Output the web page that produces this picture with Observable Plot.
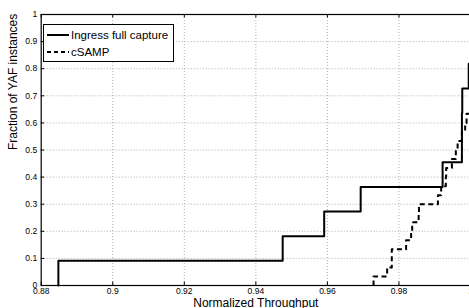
<!DOCTYPE html>
<html>
<head>
<meta charset="utf-8">
<script src="https://cdn.jsdelivr.net/npm/d3@7"></script>
<script src="https://cdn.jsdelivr.net/npm/@observablehq/plot@0.6"></script>
<style>
  html, body { margin: 0; padding: 0; background: #fff; overflow: hidden; }
  #wrap { position: relative; width: 469px; height: 308px; overflow: hidden; font-family: "Liberation Sans", Arial, Helvetica, sans-serif; }
  #legend { position: absolute; left: 43px; top: 24px; width: 129px; height: 36px; border: 1px solid #000; background: #fff; }
  #legend .row { position: absolute; left: 0; height: 16px; display: flex; align-items: center; font-size: 11.5px; color: #000; white-space: nowrap; }
  #legend svg { display: block; margin-left: 3px; margin-right: 2px; }
</style>
</head>
<body>
<div id="wrap"></div>
<script>
// Data (normalized throughput per YAF instance)
const ingressValues = [0.8848, 0.9475, 0.9591, 0.9693, 0.9922, 0.9976, 0.9976, 0.9977, 0.9995, 1.0, 1.0];
const csampValues = [0.9729, 0.9767, 0.9780, 0.9780, 0.9820, 0.9834, 0.9837, 0.9855, 0.9856, 0.9909,
                     0.9918, 0.9931, 0.9932, 0.9948, 0.9959, 0.9964, 0.9976, 0.9985, 0.9989, 1.0,
                     1.0, 1.0, 1.0, 1.0, 1.0, 1.0, 1.0, 1.0, 1.0, 1.0];
const seriesNames = ["Ingress full capture", "cSAMP"];
const xTicks = [0.88, 0.9, 0.92, 0.94, 0.96, 0.98, 1];
const xTickLabels = ["0.88", "0.9", "0.92", "0.94", "0.96", "0.98", "1"];
const yTicks = [0, 0.1, 0.2, 0.3, 0.4, 0.5, 0.6, 0.7, 0.8, 0.9, 1];
const yTickLabels = ["0", "0.1", "0.2", "0.3", "0.4", "0.5", "0.6", "0.7", "0.8", "0.9", "1"];
const xLabel = "Normalized Throughput";
const yLabel = "Fraction of YAF instances";

// Empirical CDF points
function ecdf(values, name) {
  const s = values.slice().sort((a, b) => a - b);
  const n = s.length;
  const pts = [{x: s[0], y: 0, series: name}];
  s.forEach((v, i) => pts.push({x: v, y: (i + 1) / n, series: name}));
  return pts;
}
const ingressCdf = ecdf(ingressValues, seriesNames[0]);
const csampCdf = ecdf(csampValues, seriesNames[1]);

const W = 469, H = 308;
const mL = 40.7, mT = 14, mB = 23, mR = -1;
const plotW = W - mL - mR, plotH = H - mT - mB;
const font = "'Liberation Sans', Arial, Helvetica, sans-serif";
const gridStyle = {stroke: "#9a9a9a", strokeOpacity: 1, strokeDasharray: "1,2", strokeWidth: 0.8};

const chart = Plot.plot({
  width: W, height: H,
  marginLeft: mL, marginTop: mT, marginBottom: mB, marginRight: mR,
  style: {fontFamily: font, background: "#fff", overflow: "hidden"},
  x: {domain: [0.88, 1.0]},
  y: {domain: [0, 1]},
  marks: [
    Plot.gridX(xTicks.slice(1, -1), gridStyle),
    Plot.gridY(yTicks.slice(1, -1), gridStyle),
    Plot.axisX(xTicks, {tickSize: 0, tickPadding: 2.5, fontSize: 8.5, fill: "#000", label: null,
      tickFormat: (d) => xTickLabels[xTicks.indexOf(d)]}),
    Plot.axisY(yTicks, {tickSize: 0, tickPadding: 4, fontSize: 8.5, fill: "#000", label: null,
      tickFormat: (d) => yTickLabels[yTicks.indexOf(d)]}),
    // inward ticks on all four sides
    Plot.tickX(xTicks, {x: d => d, insetTop: plotH - 3.5, stroke: "#000", strokeWidth: 1}),
    Plot.tickX(xTicks, {x: d => d, insetBottom: plotH - 3.5, stroke: "#000", strokeWidth: 1}),
    Plot.tickY(yTicks, {y: d => d, insetRight: plotW - 3.5, stroke: "#000", strokeWidth: 1}),
    Plot.line(csampCdf, {x: "x", y: "y", curve: "step-after", stroke: "#000", strokeWidth: 2,
      strokeDasharray: "5,3.5", strokeLinecap: "butt"}),
    Plot.line(ingressCdf, {x: "x", y: "y", curve: "step-after", stroke: "#000", strokeWidth: 2}),
    Plot.frame({stroke: "#000", strokeWidth: 1.2}),
    Plot.text([xLabel], {frameAnchor: "bottom", dy: 12.5, lineAnchor: "top", fontSize: 12, fill: "#000"}),
    Plot.text([yLabel], {frameAnchor: "left", dx: -28, rotate: -90, fontSize: 12, fill: "#000"})
  ]
});
const wrap = document.getElementById("wrap");
wrap.appendChild(chart);

// Legend (inside plot, top-left)
const legend = document.createElement("div");
legend.id = "legend";
const dashes = [null, "4,3"];
seriesNames.forEach((name, i) => {
  const row = document.createElement("div");
  row.className = "row";
  row.style.top = (2 + i * 17) + "px";
  row.innerHTML = `<svg width="22" height="4"><line x1="0" y1="2" x2="22" y2="2" stroke="#000" stroke-width="2" ${dashes[i] ? `stroke-dasharray="${dashes[i]}"` : ""}/></svg><span>${name}</span>`;
  legend.appendChild(row);
});
wrap.appendChild(legend);
</script>
</body>
</html>
